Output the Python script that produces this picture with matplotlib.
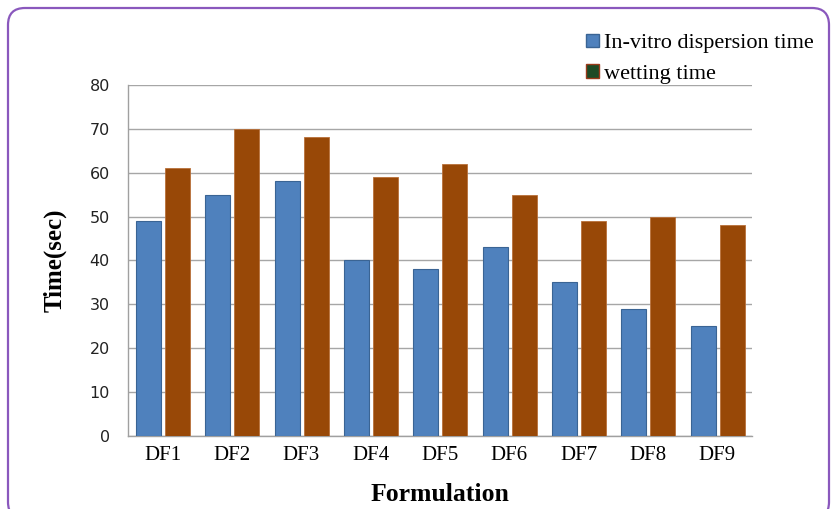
import numpy as np
import matplotlib.pyplot as plt
from matplotlib.patches import FancyBboxPatch, Patch

formulations = ['DF1', 'DF2', 'DF3', 'DF4', 'DF5', 'DF6', 'DF7', 'DF8', 'DF9']
dispersion_time = [49, 55, 58, 40, 38, 43, 35, 29, 25]
wetting_time = [61, 70, 68, 59, 62, 55, 49, 50, 48]

BLUE = '#4f81bd'
BLUE_EDGE = '#3a6494'
BROWN = '#984807'
SERIF = 'Liberation Serif'

fig = plt.figure(figsize=(8.31, 5.09), dpi=100)
ax = fig.add_axes([0.154, 0.1434, 0.751, 0.690])

# rounded purple frame around the whole chart
frame = FancyBboxPatch((0.08, -0.10), 8.21, 5.11,
                       boxstyle='round,pad=0,rounding_size=0.17',
                       transform=fig.dpi_scale_trans, facecolor='none',
                       edgecolor='#8a58bd', linewidth=1.6, clip_on=False)
fig.patches.append(frame)

x = np.arange(len(formulations))
w = 0.36
ax.bar(x - 0.205, dispersion_time, w, color=BLUE, edgecolor=BLUE_EDGE,
       linewidth=0.8, zorder=3)
ax.bar(x + 0.215, wetting_time, w, color=BROWN, edgecolor='#b8703a',
       linewidth=0.6, zorder=3)

ax.set_xlim(-0.5, len(formulations) - 0.5)
ax.set_ylim(0, 80)
ax.set_yticks(range(0, 81, 10))
ax.set_xticks(x)
ax.set_xticklabels(formulations, fontfamily=SERIF, fontsize=15)
ax.tick_params(axis='y', length=0, pad=13, labelsize=11.5, labelcolor='#222222')
ax.tick_params(axis='x', length=0, pad=7)

ax.grid(axis='y', color='#a6a6a6', linewidth=1, zorder=0)
for s in ['top', 'right']:
    ax.spines[s].set_visible(False)
for s in ['left', 'bottom']:
    ax.spines[s].set_color('#a0a0a0')
    ax.spines[s].set_linewidth(1)

ax.set_ylabel('Time(sec)', fontfamily=SERIF, fontweight='bold', fontsize=18)
ax.yaxis.set_label_coords(-0.099, 0.5)
ax.set_xlabel('Formulation', fontfamily=SERIF, fontweight='bold', fontsize=18.5)
ax.xaxis.set_label_coords(0.5, -0.135)

handles = [Patch(facecolor=BLUE, edgecolor=BLUE_EDGE),
           Patch(facecolor='#1d4a25', edgecolor='#9a3a1a')]
fig.legend(handles, ['In-vitro dispersion time', 'wetting time'],
           loc='upper left', bbox_to_anchor=(0.695, 0.951), frameon=False,
           prop={'family': SERIF, 'size': 16}, handlelength=0.55,
           handleheight=0.55, handletextpad=0.25, labelspacing=0.5,
           borderaxespad=0)

fig.savefig('out.png', dpi=100)
